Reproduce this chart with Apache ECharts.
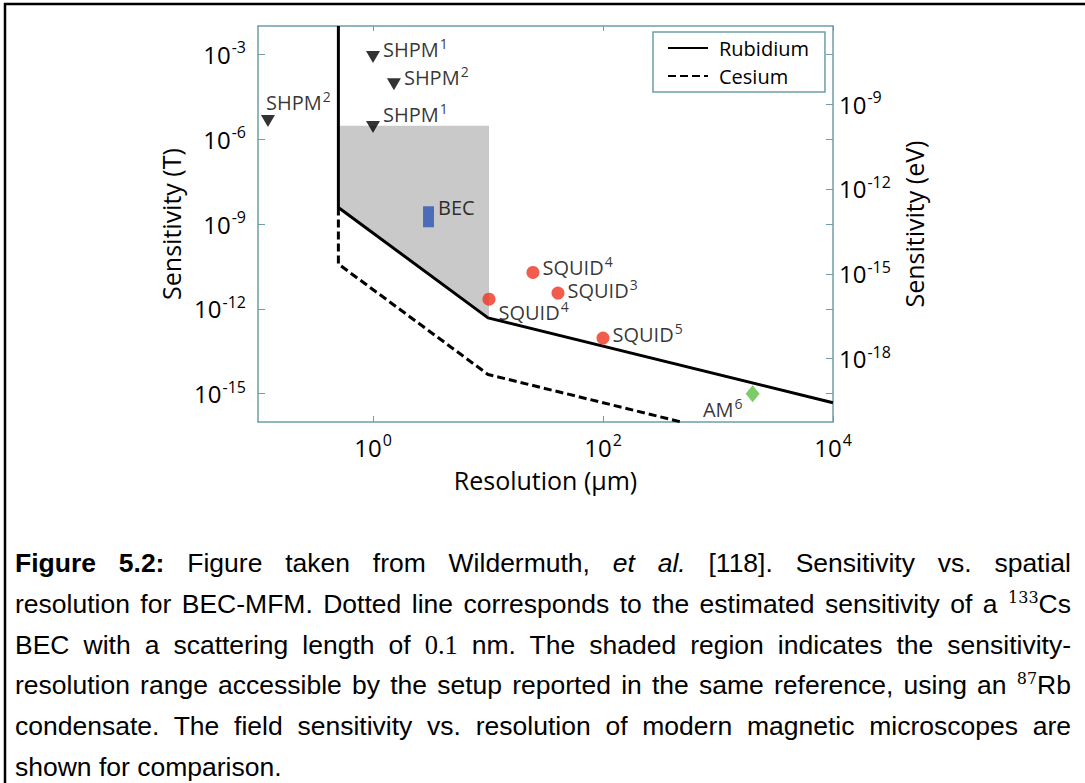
<!DOCTYPE html>
<html>
<head>
<meta charset="utf-8">
<script src="https://cdn.jsdelivr.net/npm/echarts@6/dist/echarts.min.js"></script>
<style>
  html, body { margin: 0; padding: 0; background: #fff; }
  #wrap { position: relative; width: 1085px; height: 783px; overflow: hidden; }
  #chart { position: absolute; left: 0; top: 0; width: 1085px; height: 783px; }
  #cap { position: absolute; left: 15px; top: 543px; width: 1056px;
         font-family: 'Liberation Sans', Arial, sans-serif; font-size: 26.5px; color: #000; }
  #cap .ln { height: 40.8px; line-height: 40.8px; white-space: nowrap; }
  #cap .t { display: inline-block; }
  #cap sup { font-family: 'DejaVu Serif', 'Liberation Serif', serif; font-size: 16px; vertical-align: 10px; line-height: 0; }
  #cap .m { font-family: 'Liberation Serif', 'DejaVu Serif', serif; }
</style>
</head>
<body>
<div id="wrap">
  <div id="chart"></div>
  <div id="cap">
    <div class="ln"><span class="t"><b>Figure 5.2:</b> Figure taken from Wildermuth, <i>et al.</i> [118]. Sensitivity vs. spatial</span></div>
    <div class="ln"><span class="t">resolution for BEC-MFM. Dotted line corresponds to the estimated sensitivity of a <sup>133</sup>Cs</span></div>
    <div class="ln"><span class="t">BEC with a scattering length of <span class="m">0.1</span> nm. The shaded region indicates the sensitivity-</span></div>
    <div class="ln"><span class="t">resolution range accessible by the setup reported in the same reference, using an <sup>87</sup>Rb</span></div>
    <div class="ln"><span class="t">condensate. The field sensitivity vs. resolution of modern magnetic microscopes are</span></div>
    <div class="ln last"><span class="t">shown for comparison.</span></div>
  </div>
</div>
<script>
// ---------------- data (resolution in µm, sensitivity in T) ----------------
const rbX = [0.5, 0.5, 10, 1e4];
const rbY = [1e-2, 3.84e-9, 4.8e-13, 4.8e-16];
const csX = [0.5, 0.5, 10, 480];
const csY = [3.84e-9, 3.84e-11, 4.8e-15, 1e-16];
const shadeX = [0.5, 10.2, 10.2, 0.5];
const shadeY = [2.95e-6, 2.95e-6, 4.6e-13, 3.84e-9];
const shpmX = [1, 1.52, 1, 0.122];
const shpmY = [8e-4, 8.8e-5, 2.7e-6, 4.4e-6];
const shpmRef = ['1', '2', '1', '2'];
const becX = [3.04];
const becY = [1.8e-9];
const squidX = [10.2, 24.6, 40.6, 100];
const squidY = [2.2e-12, 1.94e-11, 3.6e-12, 9.3e-14];
const squidRef = ['4', '4', '3', '5'];
const amX = [2000];
const amY = [1e-15];
const amRef = ['6'];
const xTickExp = [0, 2, 4];
const yTickExp = [-15, -12, -9, -6, -3];
const evTickExp = [-18, -15, -12, -9];
const xRange = [0.1, 1e4];
const yRange = [1e-16, 1e-2];
const EV_PER_TESLA = 5.788e-5; // Bohr magneton, eV/T

// ---------------- helpers ----------------
const L = Math.log10;
const pairs = (xs, ys) => xs.map((x, i) => [L(x), L(ys[i])]);
const evShift = L(EV_PER_TESLA);
const FONT = "'Open Sans', 'DejaVu Sans', sans-serif";
const AX = '#6f9ea8';
const TXT = '#000';
const expFmt = v => '{b|10}{s|' + Math.round(v) + '}';
const tickRich = {
  b: { fontFamily: FONT, fontSize: 24, color: TXT, lineHeight: 24 },
  s: { fontFamily: FONT, fontSize: 16, color: TXT, lineHeight: 16, padding: [0, 0, 14, 1] }
};
const lblRich = { s: { fontFamily: FONT, fontSize: 14, color: TXT, padding: [0, 0, 12, 1] } };

const chart = echarts.init(document.getElementById('chart'), null, { renderer: 'svg' });
const shadeData = pairs(shadeX, shadeY);

// label placement (layout only)
const shpmLabel = [
  { position: 'right', distance: 3, offset: [0, -8] },
  { position: 'right', distance: 3, offset: [0, -7] },
  { position: 'right', distance: 3, offset: [0, -12] },
  { position: 'right', distance: 5, offset: [-14, -18] }
];
const squidLabel = [
  { position: 'right', distance: 3, offset: [0, 13] },
  { position: 'right', distance: 3, offset: [0, -5] },
  { position: 'right', distance: 3, offset: [0, -3] },
  { position: 'right', distance: 3, offset: [0, -4] }
];

function labelled(xs, ys, names, refs, layouts) {
  return xs.map((x, i) => ({
    value: [L(x), L(ys[i])],
    label: Object.assign({
      show: true,
      formatter: names[i] + '{s|' + refs[i] + '}',
      fontFamily: FONT, fontSize: 20, color: TXT, rich: lblRich
    }, layouts[i])
  }));
}

const axLine = { show: true, onZero: false, lineStyle: { color: AX, width: 1.5 } };

const option = {
  animation: false,
  backgroundColor: '#fff',
  graphic: [
    { type: 'line', shape: { x1: 4, y1: 4, x2: 1085, y2: 4 }, style: { stroke: '#000', lineWidth: 2.5 } },
    { type: 'line', shape: { x1: 5, y1: 3, x2: 5, y2: 783 }, style: { stroke: '#000', lineWidth: 2.5 } }
  ],
  grid: { left: 258, top: 26, right: 252, bottom: 361, containLabel: false },
  legend: {
    data: ['Rubidium', 'Cesium'],
    orient: 'vertical', left: 653, top: 32,
    padding: [6, 16, 6, 14], itemGap: 8, itemWidth: 40, itemHeight: 20,
    borderColor: AX, borderWidth: 1.5,
    itemStyle: { color: 'rgba(0,0,0,0)', borderWidth: 0, opacity: 0 },
    textStyle: { fontFamily: FONT, fontSize: 20, color: TXT, padding: [0, 0, 0, 6] }
  },
  xAxis: [
    {
      type: 'value', position: 'bottom', min: L(xRange[0]), max: L(xRange[1]),
      name: 'Resolution (μm)', nameLocation: 'middle', nameGap: 45,
      nameTextStyle: { fontFamily: FONT, fontSize: 25, color: TXT },
      axisLine: axLine,
      axisTick: { show: true, inside: true, length: 6, customValues: xTickExp, lineStyle: { color: AX } },
      axisLabel: { show: true, customValues: xTickExp, margin: 13, formatter: expFmt, rich: tickRich },
      splitLine: { show: false }
    },
    {
      type: 'value', position: 'top', min: L(xRange[0]), max: L(xRange[1]),
      axisLine: axLine,
      axisTick: { show: true, inside: true, length: 5, customValues: xTickExp, lineStyle: { color: AX } },
      axisLabel: { show: false },
      splitLine: { show: false }
    }
  ],
  yAxis: [
    {
      type: 'value', position: 'left', min: L(yRange[0]), max: L(yRange[1]),
      name: 'Sensitivity (T)', nameLocation: 'middle', nameGap: 60, nameRotate: 90,
      nameTextStyle: { fontFamily: FONT, fontSize: 25, color: TXT },
      axisLine: axLine,
      axisTick: { show: true, inside: true, length: 7, customValues: yTickExp, lineStyle: { color: AX } },
      axisLabel: { show: true, customValues: yTickExp, margin: 12, formatter: expFmt, rich: tickRich },
      splitLine: { show: false }
    },
    {
      type: 'value', position: 'right', min: L(yRange[0]) + evShift, max: L(yRange[1]) + evShift,
      name: 'Sensitivity (eV)', nameLocation: 'middle', nameGap: 62, nameRotate: 90,
      nameTextStyle: { fontFamily: FONT, fontSize: 25, color: TXT },
      axisLine: axLine,
      axisTick: { show: true, inside: true, length: 7,
        customValues: evTickExp.concat(yTickExp.map(e => e + evShift)), lineStyle: { color: AX } },
      axisLabel: { show: true, customValues: evTickExp, margin: 6, formatter: expFmt, rich: tickRich },
      splitLine: { show: false }
    }
  ],
  series: [
    {
      type: 'custom', name: 'shade', silent: true, z: 1,
      data: shadeData,
      renderItem: (params, api) => {
        if (params.dataIndex !== 0) return null;
        return { type: 'polygon', shape: { points: shadeData.map(p => api.coord(p)) }, style: { fill: '#c9c9c9' } };
      }
    },
    {
      type: 'line', name: 'Rubidium', data: pairs(rbX, rbY), symbol: 'none', z: 3,
      lineStyle: { color: '#000', width: 3, type: 'solid' }, itemStyle: { color: '#000' }
    },
    {
      type: 'line', name: 'Cesium', data: pairs(csX, csY), symbol: 'none', z: 3,
      lineStyle: { color: '#000', width: 3, type: [8, 4] }, itemStyle: { color: '#000' }
    },
    {
      type: 'scatter', name: 'SHPM', z: 5, symbol: 'triangle', symbolRotate: 180, symbolSize: [14, 12],
      itemStyle: { color: '#000' },
      data: labelled(shpmX, shpmY, ['SHPM', 'SHPM', 'SHPM', 'SHPM'], shpmRef, shpmLabel)
    },
    {
      type: 'scatter', name: 'BEC', z: 5, symbol: 'rect', symbolSize: [11, 21],
      itemStyle: { color: '#2d54b4' },
      data: becX.map((x, i) => ({
        value: [L(x), L(becY[i])],
        label: { show: true, position: 'right', distance: 4, offset: [0, -9], formatter: 'BEC',
                 fontFamily: FONT, fontSize: 20, color: TXT }
      }))
    },
    {
      type: 'scatter', name: 'SQUID', z: 5, symbol: 'circle', symbolSize: 13,
      itemStyle: { color: '#f0321f' },
      data: labelled(squidX, squidY, ['SQUID', 'SQUID', 'SQUID', 'SQUID'], squidRef, squidLabel)
    },
    {
      type: 'scatter', name: 'AM', z: 5, symbol: 'diamond', symbolSize: [14, 17],
      itemStyle: { color: '#5cbf45' },
      data: labelled(amX, amY, ['AM'], amRef, [{ position: 'left', distance: 3, offset: [0, 16] }])
    }
  ]
};
chart.setOption(option);

// justify the caption lines (all but the last) to the full text width
function justifyCaption() {
  const W = 1056;
  const lines = document.querySelectorAll('#cap .ln');
  lines.forEach((ln, i) => {
    if (i === lines.length - 1) return;
    const t = ln.querySelector('.t');
    t.style.wordSpacing = '0px';
    t.style.letterSpacing = '0px';
    const w = t.getBoundingClientRect().width;
    const text = t.textContent;
    const n = (text.match(/ /g) || []).length;
    let ws = (W - w) / n;
    if (ws < -3) {
      const deficit = (W - w) + 3 * n;
      t.style.letterSpacing = (deficit / text.length) + 'px';
      ws = -3;
    }
    t.style.wordSpacing = ws + 'px';
  });
}
justifyCaption();
if (document.fonts && document.fonts.ready) document.fonts.ready.then(justifyCaption);
</script>
</body>
</html>
